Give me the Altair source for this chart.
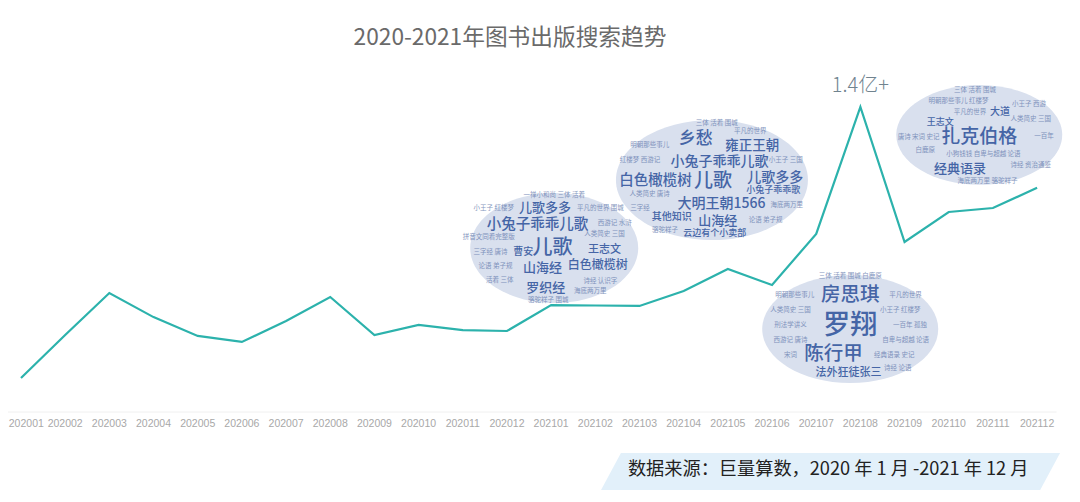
import altair as alt
import pandas as pd

FONT = "Noto Sans CJK SC"

months = ["202001","202002","202003","202004","202005","202006","202007","202008","202009","202010","202011","202012",
          "202101","202102","202103","202104","202105","202106","202107","202108","202109","202110","202111","202112"]
# search volume in millions of searches: the peak is 1.4亿 = 140
search = [18.8,38,56.8,46,37.6,34.9,44.3,55,38,42.5,40.2,39.8,
          51.4,51.2,51,57.7,67.5,60.4,83.2,140,79.6,93,94.8,103.8]

title_text = "2020-2021年图书出版搜索趋势"
peak_label = "1.4亿+"
source_text = "数据来源：巨量算数，2020 年 1 月 -2021 年 12 月"

clouds = {
    "A": dict(cx=12.07, cy=76.9, rx=1.90, ry=24.6, w=168, h=110),
    "B": dict(cx=15.64, cy=107.3, rx=2.17, ry=26.8, w=192, h=120),
    "C": dict(cx=18.77, cy=40.7, rx=1.99, ry=24.2, w=176, h=108),
    "D": dict(cx=21.69, cy=127.5, rx=1.88, ry=22.4, w=166, h=100),
}
big_words = [
    ("儿歌多多","A",-.11,-.72,13),("小兔子乖乖儿歌","A",-.2,-.42,14.5),("儿歌","A",-.02,0,20),
    ("王志文","A",.6,.03,11),("山海经","A",-.14,.36,13),("白色橄榄树","A",.52,.3,12),
    ("罗织经","A",-.1,.73,13),("曹安","A",-.37,.07,10),
    ("乡愁","B",-.17,-.68,17),("雍正王朝","B",.42,-.57,13.5),("小兔子乖乖儿歌","B",.08,-.3,14),
    ("白色橄榄树","B",-.59,.02,14.5),("儿歌","B",.01,.02,19),("儿歌多多","B",.66,-.03,14),
    ("小兔子乖乖歌","B",.64,.17,9),("大明王朝1566","B",.1,.4,14),("其他知识","B",-.42,.62,10),
    ("山海经","B",.06,.68,13),("云边有个小卖部","B",.03,.89,9),
    ("房思琪","C",0,-.62,19.5),("罗翔","C",0,-.06,27),("陈行甲","C",-.19,.46,19.5),("法外狂徒张三","C",-.02,.82,11),
    ("扎克伯格","D",0,.04,19),("经典语录","D",-.23,.68,13),("大道","D",.25,-.46,10),("王志文","D",-.47,-.26,9),
]
small_rows = [
    ("A",0,-.96,"一禅小和尚 三体 活着"),("A",.55,-.72,"平凡的世界 围城"),("A",-.72,-.72,"小王子 红楼梦"),("A",.72,-.46,"西游记 水浒"),
    ("A",-.78,-.2,"拼音文同看完整版"),("A",.6,-.26,"人类简史 三国"),("A",-.76,.07,"三字经 唐诗"),
    ("A",-.7,.33,"论语 弟子规"),("A",.55,.6,"诗经 认识字"),("A",-.65,.58,"活着 三体"),("A",.43,.78,"海底两万里"),("A",-.07,.95,"骆驼祥子 围城"),
    ("B",.05,-.96,"三体 活着 围城"),("B",.4,-.82,"平凡的世界"),("B",-.65,-.58,"明朝那些事儿"),("B",-.75,-.33,"红楼梦 西游记"),
    ("B",.77,-.33,"小王子 三国"),("B",-.65,.23,"人类简史 唐诗"),("B",-.75,.47,"三字经"),("B",.78,.42,"海底两万里"),
    ("B",.56,.67,"论语 弟子规"),("B",-.49,.83,"骆驼祥子"),
    ("C",0,-.97,"三体 活着 围城 白鹿原"),("C",-.63,-.63,"明朝那些事儿"),("C",.63,-.63,"平凡的世界"),("C",-.68,-.35,"人类简史 三国"),
    ("C",.57,-.35,"小王子 红楼梦"),("C",-.68,-.07,"刑法学讲义"),("C",.68,-.07,"一百年 孤独"),("C",-.68,.2,"西游记 唐诗"),
    ("C",.63,.2,"自卑与超越 论语"),("C",.5,.48,"经典语录 史记"),("C",-.68,.48,"宋词"),("C",.54,.72,"诗经 论语"),
    ("D",-.05,-.9,"三体 活着 围城"),("D",-.25,-.68,"明朝那些事儿 红楼梦"),("D",.6,-.62,"小王子 西游"),("D",-.11,-.46,"平凡的世界"),
    ("D",.62,-.32,"人类简史 三国"),("D",-.73,.04,"唐诗 宋词 史记"),("D",.78,.03,"一百年"),("D",.05,.38,"小狗钱钱 自卑与超越 论语"),
    ("D",.62,.6,"诗经 资治通鉴"),("D",-.65,.3,"白鹿原"),("D",.1,.92,"海底两万里 骆驼祥子"),
]

def place(rows):
    out = []
    for r in rows:
        if len(r) == 5:
            word, key, u, v, s = r
        else:
            key, u, v, word = r
            s = 6.5
        c = clouds[key]
        out.append(dict(word=word, x=c["cx"] + u * c["rx"], y=c["cy"] - v * c["ry"], s=s))
    return pd.DataFrame(out)

x_scale = alt.Scale(domain=[-0.294, 23.79], nice=False, zero=False)
y_scale = alt.Scale(domain=[3.58, 157.4], nice=False, zero=False)

X = lambda f="x:Q": alt.X(f, scale=x_scale, axis=None)
Y = lambda f="y:Q": alt.Y(f, scale=y_scale, axis=None)

# the first label is nudged right so that it stays inside the page's 8px margin
label_x = [0.12] + list(range(1, 24))
df = pd.DataFrame(dict(i=list(range(24)), v=search, month=months, lx=label_x, base=[-1.8] * 24))

baseline = alt.Chart(pd.DataFrame(dict(x=[-0.294, 23.44], y=[3.58, 3.58]))).mark_line(
    color="#f0f0f0", strokeWidth=1).encode(x=X(), y=Y())

month_labels = alt.Chart(df).mark_text(font="Liberation Sans", fontSize=10.5, color="#a8a8a8").encode(
    x=X("lx:Q"), y=Y("base:Q"), text="month:N")

line = alt.Chart(df).mark_line(color="#2cb2ac", strokeWidth=2.2).encode(x=X("i:Q"), y=Y("v:Q"))

ellipses = []
for c in clouds.values():
    k = c["h"] / c["w"]
    ellipses.append(
        alt.Chart(pd.DataFrame([dict(x=c["cx"], y=c["cy"])])).mark_point(
            shape=f"M-1,0A1,{k:.3f},0,1,1,1,0A1,{k:.3f},0,1,1,-1,0Z",
            filled=True, color="#d9e0ee", opacity=1, size=c["w"] ** 2,
        ).encode(x=X(), y=Y())
    )

small = alt.Chart(place(small_rows)).mark_text(font=FONT, fontSize=6.5, color="#6f85b4", opacity=0.85).encode(
    x=X(), y=Y(), text="word:N")

big = alt.Chart(place(big_words)).mark_text(font=FONT, color="#4565a6", fontWeight=500).encode(
    x=X(), y=Y(), text="word:N", size=alt.Size("s:Q", scale=None, legend=None))

peak = alt.Chart(pd.DataFrame([dict(x=19, y=149.4, t=peak_label)])).mark_text(
    font=FONT, fontSize=20, color="#70838f", fontWeight=300).encode(x=X(), y=Y(), text="t:N")

band = alt.Chart(pd.DataFrame(dict(left=[13.58, 13.13], right=[23.52, 23.07], y=[-14.76, -31.3]))).mark_area(
    orient="horizontal", color="#e2f0fa").encode(x=X("left:Q"), x2="right:Q", y=Y())

source = alt.Chart(pd.DataFrame([dict(x=18.27, y=-22.4, t=source_text)])).mark_text(
    font=FONT, fontSize=18.2, color="#222222").encode(x=X(), y=Y(), text="t:N")

chart = alt.layer(baseline, month_labels, line, *ellipses, small, big, peak, band, source).properties(
    width=1064, height=344,
    padding=dict(left=0, top=60, right=0, bottom=82),
    autosize=alt.AutoSizeParams(type="none"),
    background="white",
    title=alt.TitleParams(title_text, font=FONT, fontSize=22.7, fontWeight=400, color="#6a6a6a",
                          anchor="middle", dx=-30, offset=18),
).configure_view(stroke=None)

chart.save("out.html", embed_options={"renderer": "svg", "actions": False})
